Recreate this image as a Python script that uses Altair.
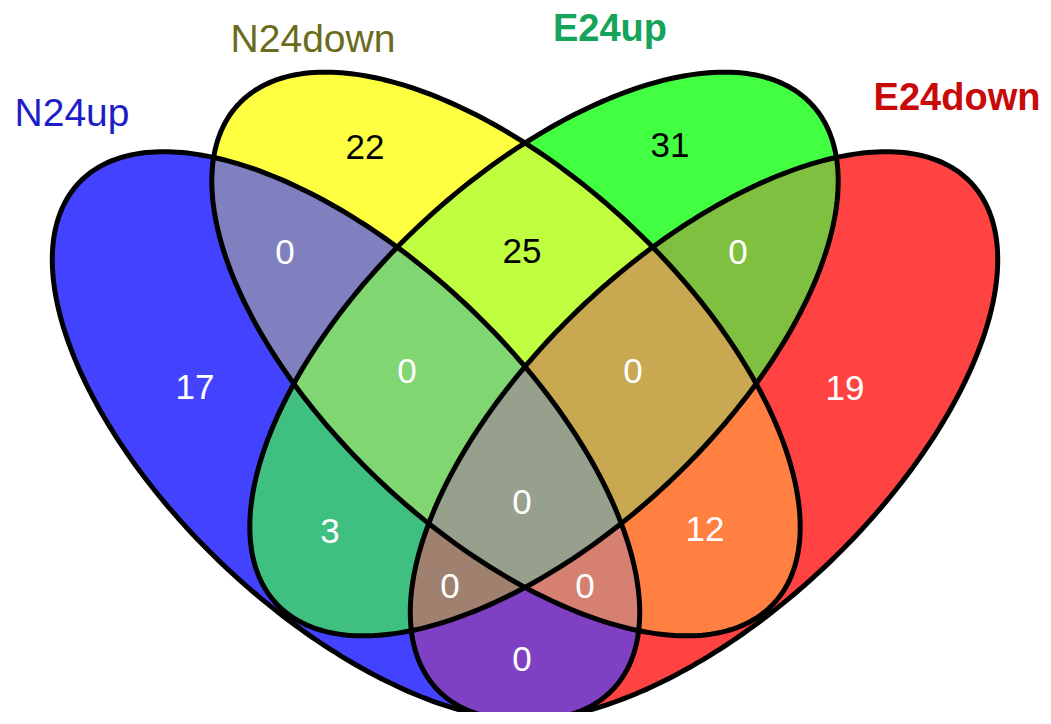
import numpy as np
import pandas as pd
import altair as alt

# ---------------- data ----------------
set_names = ["N24up", "N24down", "E24up", "E24down"]
set_keys = ["B", "Y", "G", "R"]
label_colors = ["#1E1EC8", "#6B6B20", "#16A35A", "#C80A0A"]
label_bold = [False, False, True, True]

# region membership keys and counts
region_keys = ["B", "Y", "G", "R",
               "BY", "BG", "BR", "YG", "YR", "GR",
               "BYG", "BYR", "BGR", "YGR", "BYGR"]
region_counts = [17, 22, 31, 19,
                 0, 3, 0, 25, 12, 0,
                 0, 0, 0, 0, 0]
region_colors = ["#4242FF", "#FFFF42", "#42FF42", "#FF4242",
                 "#8080C0", "#40C080", "#8040C4", "#C0FF40", "#FF8040", "#80C040",
                 "#80D670", "#D58070", "#A0806E", "#C8A850", "#96A08C"]
count_text_colors = ["white", "black", "black", "white",
                     "white", "white", "white", "black", "white", "white",
                     "white", "white", "white", "white", "white"]

# ---------------- layout ----------------
W, H = 1035, 704
OFF = 8
ell_cx = [346, 506, 544, 704]
ell_cy = [436, 354, 354, 436]
ell_a = [368, 366, 366, 368]
ell_b = [178, 179, 179, 178]
ell_rot = [43.5, 43.0, -43.0, -43.5]
count_pos_x = [195, 365, 670, 845, 285, 330, 522, 522, 705, 738, 407, 585, 450, 633, 522]
count_pos_y = [388, 148, 146, 389, 253, 532, 660, 252, 530, 253, 372, 587, 587, 372, 503]
label_pos_x = [72, 313, 610, 957]
label_pos_y = [126, 52, 41, 110]


def ellipse(i, n=320):
    t = np.linspace(0, 2 * np.pi, n, endpoint=False)
    th = np.deg2rad(ell_rot[i])
    x = ell_cx[i] + ell_a[i] * np.cos(t) * np.cos(th) - ell_b[i] * np.sin(t) * np.sin(th)
    y = ell_cy[i] + ell_a[i] * np.cos(t) * np.sin(th) + ell_b[i] * np.sin(t) * np.cos(th)
    return list(zip(x, y))


def signed_area(poly):
    s = 0.0
    for k in range(len(poly)):
        x1, y1 = poly[k]
        x2, y2 = poly[(k + 1) % len(poly)]
        s += x1 * y2 - x2 * y1
    return s / 2


def clip(subject, clipper):
    orient = 1 if signed_area(clipper) > 0 else -1

    def inside(p, a, b):
        return orient * ((b[0] - a[0]) * (p[1] - a[1]) - (b[1] - a[1]) * (p[0] - a[0])) >= 0

    def inter(s, e, a, b):
        x1, y1 = s; x2, y2 = e; x3, y3 = a; x4, y4 = b
        den = (x1 - x2) * (y3 - y4) - (y1 - y2) * (x3 - x4)
        if den == 0:
            return e
        t = ((x1 - x3) * (y3 - y4) - (y1 - y3) * (x3 - x4)) / den
        return (x1 + t * (x2 - x1), y1 + t * (y2 - y1))

    out = subject
    n = len(clipper)
    for k in range(n):
        a = clipper[k]
        b = clipper[(k + 1) % n]
        inp = out
        out = []
        if not inp:
            break
        s = inp[-1]
        for e in inp:
            if inside(e, a, b):
                if not inside(s, a, b):
                    out.append(inter(s, e, a, b))
                out.append(e)
            elif inside(s, a, b):
                out.append(inter(s, e, a, b))
            s = e
    return out


ells = [ellipse(i) for i in range(4)]

rows = []
for key in region_keys:
    idx = [set_keys.index(c) for c in key]
    poly = ells[idx[0]]
    for j in idx[1:]:
        poly = clip(poly, ells[j])
    for k, (px, py) in enumerate(poly):
        rows.append({"region": key, "size": len(key), "i": k, "x": px, "y": py})
regions_df = pd.DataFrame(rows)

orow = []
for i in range(4):
    pts = ells[i] + [ells[i][0]]
    for k, (px, py) in enumerate(pts):
        orow.append({"set": set_names[i], "i": k, "x": px, "y": py})
outline_df = pd.DataFrame(orow)

counts_df = pd.DataFrame({"x": count_pos_x, "y": count_pos_y,
                          "count": [str(c) for c in region_counts],
                          "tc": count_text_colors})
labels_df = pd.DataFrame({"x": label_pos_x, "y": label_pos_y, "name": set_names,
                          "lc": label_colors, "bold": label_bold})

xs = alt.Scale(domain=[OFF, OFF + W], nice=False, zero=False)
ys = alt.Scale(domain=[OFF, OFF + H], nice=False, zero=False, reverse=True)
X = alt.X("x:Q", scale=xs, axis=None)
Y = alt.Y("y:Q", scale=ys, axis=None)
fill_scale = alt.Scale(domain=region_keys, range=region_colors)

layers = []
for sz in [1, 2, 3, 4]:
    sub = regions_df[regions_df["size"] == sz]
    layers.append(
        alt.Chart(sub).mark_line(filled=True, opacity=1, strokeWidth=0).encode(
            x=X, y=Y,
            color=alt.Color("region:N", scale=fill_scale, legend=None),
            order=alt.Order("i:Q"),
        )
    )

outlines = alt.Chart(outline_df).mark_line(color="black", strokeWidth=5, strokeJoin="round").encode(
    x=X, y=Y, detail="set:N", order=alt.Order("i:Q")
)

counts = alt.Chart(counts_df).mark_text(
    font="Liberation Sans", fontSize=35, align="center", baseline="middle"
).encode(x=X, y=Y, text="count:N", color=alt.Color("tc:N", scale=None))

labels_reg = alt.Chart(labels_df[~labels_df["bold"]]).mark_text(
    font="Liberation Sans", fontSize=39, align="center", baseline="alphabetic"
).encode(x=X, y=Y, text="name:N", color=alt.Color("lc:N", scale=None))

labels_bold = alt.Chart(labels_df[labels_df["bold"]]).mark_text(
    font="Liberation Sans", fontSize=38, fontWeight="bold", align="center", baseline="alphabetic"
).encode(x=X, y=Y, text="name:N", color=alt.Color("lc:N", scale=None))

chart = alt.layer(*layers, outlines, counts, labels_reg, labels_bold).properties(
    width=W, height=H, padding=0, autosize=alt.AutoSizeParams(type="none"),
    background="white"
).configure_view(stroke=None)

chart.save("out.html", embed_options={"renderer": "svg", "actions": False})
